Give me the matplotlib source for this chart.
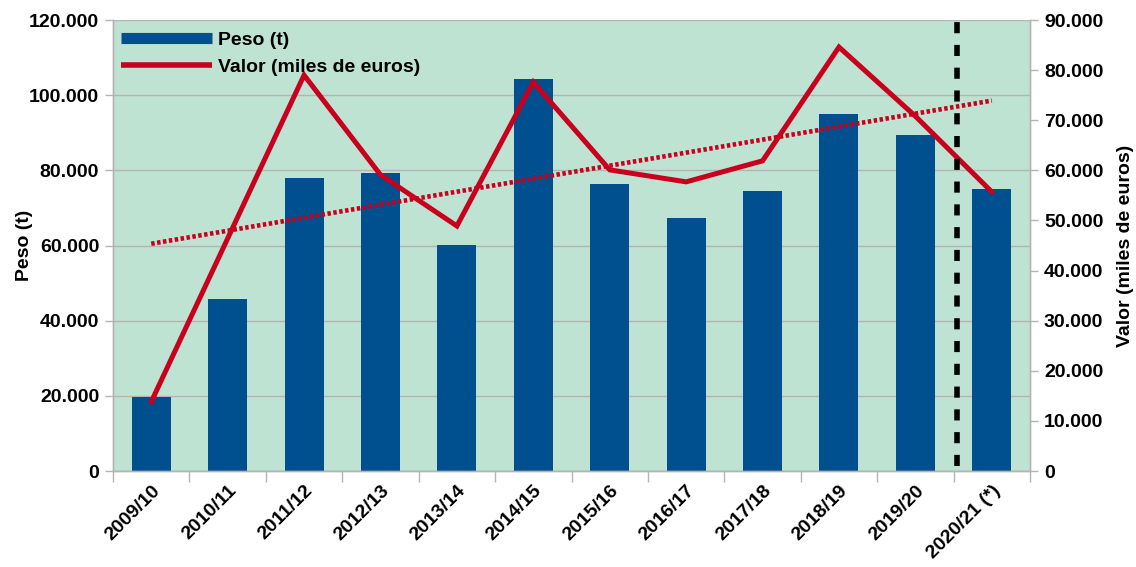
import matplotlib
matplotlib.use("Agg")
import matplotlib.pyplot as plt
import numpy as np
from matplotlib.lines import Line2D
from matplotlib.ticker import FuncFormatter, MultipleLocator

categories = ["2009/10", "2010/11", "2011/12", "2012/13", "2013/14", "2014/15",
              "2015/16", "2016/17", "2017/18", "2018/19", "2019/20", "2020/21 (*)"]
peso = [19800, 45900, 78000, 79300, 60100, 104300, 76400, 67300, 74500, 95000, 89400, 75000]
valor = [13800, 46400, 79000, 59100, 48900, 77600, 60100, 57700, 61900, 84600, 70800, 55700]

plt.rcParams['font.family'] = ['Liberation Sans', 'DejaVu Sans']
plt.rcParams['font.weight'] = 'bold'

BLUE = "#00508f"
RED = "#c8001e"
BG = "#bfe3d3"
GRID = "#b4b4b4"

fig = plt.figure(figsize=(11.36, 5.67), dpi=100)
ax = fig.add_axes([0.0995, 0.1693, 0.8072, 0.7954])
ax2 = ax.twinx()

x = np.arange(len(categories))
ax.set_facecolor(BG)
ax.bar(x, peso, width=0.51, color=BLUE, zorder=2)
ax.set_xlim(-0.5, len(categories) - 0.5)
ax.set_ylim(0, 120000)
ax.yaxis.set_major_locator(MultipleLocator(20000))
ax.grid(axis='y', color=GRID, lw=1, zorder=1)
ax.set_axisbelow(True)

fmt = FuncFormatter(lambda v, p: f"{int(v):,}".replace(",", "."))
ax.yaxis.set_major_formatter(fmt)
ax2.yaxis.set_major_formatter(fmt)

ax2.set_ylim(0, 90000)
ax2.yaxis.set_major_locator(MultipleLocator(10000))
ax2.plot(x, valor, color=RED, lw=3.6, solid_joinstyle='miter', zorder=3)

coef = np.polyfit(x, valor, 1)
trend = np.polyval(coef, x)
ax2.plot(x, trend, color=RED, lw=3.3, linestyle=(0, (0.75, 0.55)), zorder=3)

ax2.axvline(10.55, ymin=0.012, ymax=1, color='black', lw=4, linestyle=(0, (2, 2.1)), zorder=4)

ax.set_xticks(np.arange(-0.5, len(categories), 1.0), minor=False)
ax.set_xticklabels([])
ax.set_xticks(x, minor=True)
ax.set_xticklabels(categories, minor=True, rotation=45, ha='right', rotation_mode='anchor',
                   fontsize=14, fontweight='bold')
ax.tick_params(axis='x', which='major', length=8, color=GRID, width=1)
ax.tick_params(axis='x', which='minor', length=0, pad=8)
ax.tick_params(axis='y', length=6, color=GRID, width=1, labelsize=14, pad=4)
ax2.tick_params(axis='y', length=6, color=GRID, width=1, labelsize=14, pad=4)

for a in (ax, ax2):
    a.spines['top'].set_visible(False)
    for s in ('left', 'right', 'bottom'):
        a.spines[s].set_color(GRID)
        a.spines[s].set_linewidth(1)

ax.set_ylabel("Peso (t)", fontsize=14, fontweight='bold')
ax.yaxis.set_label_coords(-0.087, 0.5)
ax2.set_ylabel("Valor (miles de euros)", fontsize=14, fontweight='bold', labelpad=10)

handles = [Line2D([], [], color=BLUE, lw=8, solid_capstyle='butt'),
           Line2D([], [], color=RED, lw=4, solid_capstyle='butt')]
leg = ax2.legend(handles, ["Peso (t)", "Valor (miles de euros)"], loc='upper left',
                 bbox_to_anchor=(-0.004, 1.0), frameon=False, handlelength=4.7,
                 handletextpad=0.3, labelspacing=0.45, borderaxespad=0.2,
                 prop={'size': 14, 'weight': 'bold'})

fig.savefig("out.png", dpi=100)
